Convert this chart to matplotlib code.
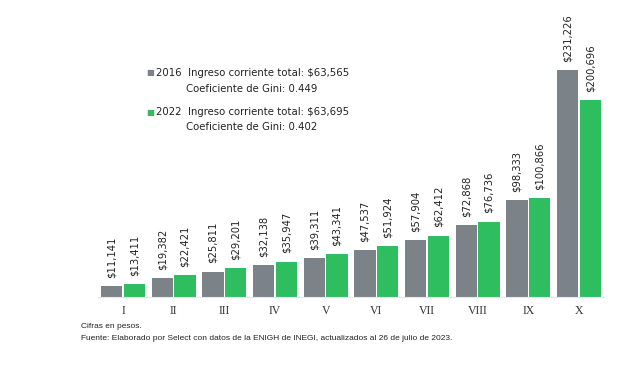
import numpy as np
import matplotlib
matplotlib.use("Agg")
import matplotlib.pyplot as plt

# deciles
deciles = ['I', 'II', 'III', 'IV', 'V', 'VI', 'VII', 'VIII', 'IX', 'X']
v2016 = [11141, 19382, 25811, 32138, 39311, 47537, 57904, 72868, 98333, 231226]
v2022 = [13411, 22421, 29201, 35947, 43341, 51924, 62412, 76736, 100866, 200696]

gray = '#7b8388'
green = '#2fbe5f'

W, H = 634, 378
fig = plt.figure(figsize=(W/100, H/100), dpi=100)
# axes placed in pixel terms
left, right = 97.7, 604.3
bottom, top = 297, 20
ax = fig.add_axes([left/W, (H-bottom)/H, (right-left)/W, (bottom-top)/H])

x = np.arange(len(deciles))
w = 0.42
off = 0.225
ax.bar(x - off, v2016, w, color=gray)
ax.bar(x + off, v2022, w, color=green)

ax.set_xlim(-0.5, 9.5)
ax.set_ylim(0, 231226 * (bottom-top) / (297-70))

for xi, a, b in zip(x, v2016, v2022):
    ax.annotate('${:,}'.format(a), (xi - off, a), xytext=(0, 6), textcoords='offset points',
                rotation=90, ha='center', va='bottom', fontsize=7.2, color='#222222')
    ax.annotate('${:,}'.format(b), (xi + off, b), xytext=(0, 6), textcoords='offset points',
                rotation=90, ha='center', va='bottom', fontsize=7.2, color='#222222')

ax.set_xticks(x)
ax.set_xticklabels(deciles, fontfamily='Liberation Serif', fontsize=8.5, color='#333333')
ax.tick_params(axis='x', length=0, pad=6)
ax.set_yticks([])
for s in ['top', 'right', 'left']:
    ax.spines[s].set_visible(False)
ax.spines['bottom'].set_color('#e6e6e6')

# legend-like text block
fs = 7.3
fig.text(146/W, 1 - 73/H, '\u25a0', color=gray, fontsize=6, va='center')
fig.text(156/W, 1 - 73/H, '2016  Ingreso corriente total: $63,565', fontsize=fs, va='center', color='#222222')
fig.text(186/W, 1 - 89/H, 'Coeficiente de Gini: 0.449', fontsize=fs, va='center', color='#222222')
fig.text(146/W, 1 - 112/H, '\u25a0', color=green, fontsize=6, va='center')
fig.text(156/W, 1 - 112/H, '2022  Ingreso corriente total: $63,695', fontsize=fs, va='center', color='#222222')
fig.text(186/W, 1 - 127/H, 'Coeficiente de Gini: 0.402', fontsize=fs, va='center', color='#222222')

fig.text(81/W, 1 - 327/H, 'Cifras en pesos.', fontsize=6.0, fontfamily='Liberation Sans',
         va='center', color='#222222')
fig.text(81/W, 1 - 339/H, 'Fuente: Elaborado por Select con datos de la ENIGH de INEGI, actualizados al 26 de julio de 2023.',
         fontsize=6.0, fontfamily='Liberation Sans', va='center', color='#222222')

fig.savefig('out.png', dpi=100)
